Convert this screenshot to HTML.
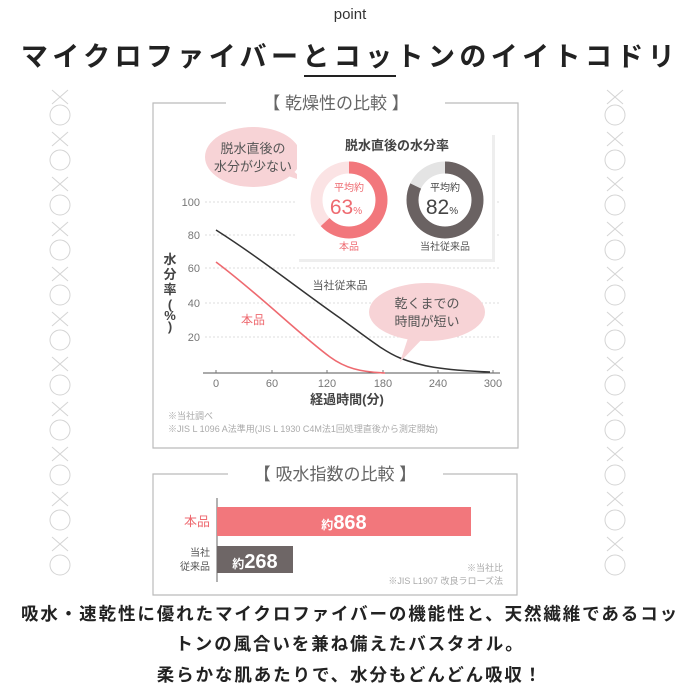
<!DOCTYPE html>
<html><head><meta charset="utf-8"><style>
html,body{margin:0;padding:0;background:#fff;}
body{width:700px;height:700px;overflow:hidden;position:relative;font-family:"Liberation Sans","Noto Sans CJK JP",sans-serif;color:#222;}
.t{position:absolute;left:0;width:700px;text-align:center;white-space:nowrap;}
</style></head><body>
<div class="t" style="top:6px;font-size:15px;color:#333;">point</div>
<div class="t" style="top:35px;font-size:27px;font-weight:bold;letter-spacing:4.4px;color:#222;">マイクロファイバーとコットンのイイトコドリ</div>
<div style="position:absolute;left:304px;top:75px;width:92px;height:2px;background:#222;"></div>

<svg style="position:absolute;left:0;top:0" width="700" height="700" xmlns="http://www.w3.org/2000/svg" font-family="Liberation Sans, Noto Sans CJK JP, sans-serif">
<g fill="none" stroke="#d4d4d4" stroke-width="1">
<g id="ch">
<circle cx="60" cy="115" r="10"/><circle cx="60" cy="160" r="10"/><circle cx="60" cy="205" r="10"/><circle cx="60" cy="250" r="10"/><circle cx="60" cy="295" r="10"/><circle cx="60" cy="340" r="10"/><circle cx="60" cy="385" r="10"/><circle cx="60" cy="430" r="10"/><circle cx="60" cy="475" r="10"/><circle cx="60" cy="520" r="10"/><circle cx="60" cy="565" r="10"/>
<path d="M52 90 L68 104 M68 90 L52 104 M52 132 L68 146 M68 132 L52 146 M52 177 L68 191 M68 177 L52 191 M52 222 L68 236 M68 222 L52 236 M52 267 L68 281 M68 267 L52 281 M52 312 L68 326 M68 312 L52 326 M52 357 L68 371 M68 357 L52 371 M52 402 L68 416 M68 402 L52 416 M52 447 L68 461 M68 447 L52 461 M52 492 L68 506 M68 492 L52 506 M52 537 L68 551 M68 537 L52 551"/>
</g>
<use href="#ch" x="555"/>
</g>

<path d="M226 103 H153 V448 H518 V103 H445" fill="none" stroke="#bbb" stroke-width="1.2"/>
<text x="336" y="109" font-size="17" fill="#666" text-anchor="middle">【 乾燥性の比較 】</text>

<g stroke="#ddd" stroke-dasharray="2 2">
<line x1="205" y1="202" x2="500" y2="202"/><line x1="205" y1="235" x2="500" y2="235"/><line x1="205" y1="268" x2="500" y2="268"/><line x1="205" y1="303" x2="500" y2="303"/><line x1="205" y1="337" x2="500" y2="337"/>
</g>
<line x1="203" y1="373" x2="500" y2="373" stroke="#555" stroke-width="1"/>
<g stroke="#777"><line x1="216" y1="370" x2="216" y2="373"/><line x1="272" y1="370" x2="272" y2="373"/><line x1="327" y1="370" x2="327" y2="373"/><line x1="383" y1="370" x2="383" y2="373"/><line x1="438" y1="370" x2="438" y2="373"/><line x1="493" y1="370" x2="493" y2="373"/></g>
<g font-size="11" fill="#777" text-anchor="end">
<text x="200" y="206">100</text><text x="200" y="239">80</text><text x="200" y="272">60</text><text x="200" y="307">40</text><text x="200" y="341">20</text></g>
<g font-size="11" fill="#777" text-anchor="middle">
<text x="216" y="387">0</text><text x="272" y="387">60</text><text x="327" y="387">120</text><text x="383" y="387">180</text><text x="438" y="387">240</text><text x="493" y="387">300</text></g>
<text x="347" y="404" font-size="13" font-weight="bold" fill="#444" text-anchor="middle">経過時間(分)</text>
<g font-size="13" font-weight="bold" fill="#444" text-anchor="middle"><text x="170" y="264">水</text><text x="170" y="279">分</text><text x="170" y="294">率</text><text x="170" y="309">(</text><text x="170" y="320">%</text><text x="170" y="331">)</text></g>
<text x="168" y="419" font-size="9" fill="#aaa">※当社調べ</text>
<text x="168" y="432" font-size="9" fill="#aaa">※JIS L 1096 A法準用(JIS L 1930 C4M法1回処理直後から測定開始)</text>

<path d="M216 230 C260 258 300 290 340 318 C370 340 385 352 400 358 C420 366 440 370 490 372" fill="none" stroke="#333" stroke-width="1.5"/>
<path d="M216 262 C260 295 300 335 330 357 C345 368 360 372 385 373" fill="none" stroke="#ee6a70" stroke-width="1.6"/>
<text x="340" y="289" font-size="11" fill="#555" text-anchor="middle">当社従来品</text>
<text x="253" y="324" font-size="12" fill="#ee6a70" text-anchor="middle">本品</text>

<path d="M290 168 L306 182 L282 174 Z" fill="#f7d3d6"/>
<ellipse cx="253" cy="157" rx="48" ry="30" fill="#f7d3d6"/>
<text x="253" y="153" font-size="13" fill="#555" text-anchor="middle">脱水直後の</text>
<text x="253" y="171" font-size="13" fill="#555" text-anchor="middle">水分が少ない</text>
<path d="M410 332 L400 362 L425 336 Z" fill="#f7d3d6"/>
<ellipse cx="427" cy="312" rx="58" ry="29" fill="#f7d3d6"/>
<text x="427" y="308" font-size="13" fill="#555" text-anchor="middle">乾くまでの</text>
<text x="427" y="326" font-size="13" fill="#555" text-anchor="middle">時間が短い</text>

<rect x="299" y="135" width="196" height="127" fill="#eee"/>
<rect x="297" y="133" width="195" height="126" fill="#fff"/>
<text x="397" y="150" font-size="13" font-weight="bold" fill="#444" text-anchor="middle">脱水直後の水分率</text>
<circle cx="349" cy="200" r="32.5" fill="none" stroke="#fbe3e4" stroke-width="12"/>
<circle cx="349" cy="200" r="32.5" fill="none" stroke="#f2777c" stroke-width="12" stroke-dasharray="128.7 204.2" transform="rotate(-90 349 200)"/>
<circle cx="445" cy="200" r="32.5" fill="none" stroke="#e4e4e4" stroke-width="12"/>
<circle cx="445" cy="200" r="32.5" fill="none" stroke="#6a6262" stroke-width="12" stroke-dasharray="167.4 204.2" transform="rotate(-90 445 200)"/>
<text x="349" y="191" font-size="10" fill="#ee6a70" text-anchor="middle">平均約</text>
<text x="346" y="214" font-size="21" fill="#ee6a70" text-anchor="middle">63<tspan font-size="10">%</tspan></text>
<text x="445" y="191" font-size="10" fill="#444" text-anchor="middle">平均約</text>
<text x="442" y="214" font-size="21" fill="#444" text-anchor="middle">82<tspan font-size="10">%</tspan></text>
<text x="349" y="250" font-size="10" fill="#ee6a70" text-anchor="middle">本品</text>
<text x="445" y="250" font-size="10" fill="#555" text-anchor="middle">当社従来品</text>

<path d="M228 474 H153 V595 H517 V474 H443" fill="none" stroke="#bbb" stroke-width="1.2"/>
<text x="335" y="480" font-size="17" fill="#666" text-anchor="middle">【 吸水指数の比較 】</text>
<line x1="217" y1="498" x2="217" y2="582" stroke="#666" stroke-width="1"/>
<rect x="217" y="507" width="254" height="29" fill="#f2777c"/>
<rect x="217" y="546" width="76" height="27" fill="#6e6666"/>
<text x="344" y="529" font-size="20" font-weight="bold" fill="#fff" text-anchor="middle"><tspan font-size="12">約</tspan>868</text>
<text x="255" y="568" font-size="20" font-weight="bold" fill="#fff" text-anchor="middle"><tspan font-size="12">約</tspan>268</text>
<text x="210" y="526" font-size="13" fill="#ee6a70" text-anchor="end">本品</text>
<text x="210" y="556" font-size="10" fill="#555" text-anchor="end">当社</text>
<text x="210" y="570" font-size="10" fill="#555" text-anchor="end">従来品</text>
<text x="503" y="571" font-size="9" fill="#aaa" text-anchor="end">※当社比</text>
<text x="503" y="584" font-size="9" fill="#aaa" text-anchor="end">※JIS L1907 改良ラローズ法</text>
</svg>

<div class="t" style="top:601px;font-size:17.5px;font-weight:bold;letter-spacing:1.9px;color:#222;">吸水・速乾性に優れたマイクロファイバーの機能性と、天然繊維であるコッ</div>
<div class="t" style="top:631px;font-size:17.5px;font-weight:bold;letter-spacing:1.9px;color:#222;">トンの風合いを兼ね備えたバスタオル。</div>
<div class="t" style="top:662px;font-size:17.5px;font-weight:bold;letter-spacing:1.9px;color:#222;">柔らかな肌あたりで、水分もどんどん吸収！</div>
</body></html>
